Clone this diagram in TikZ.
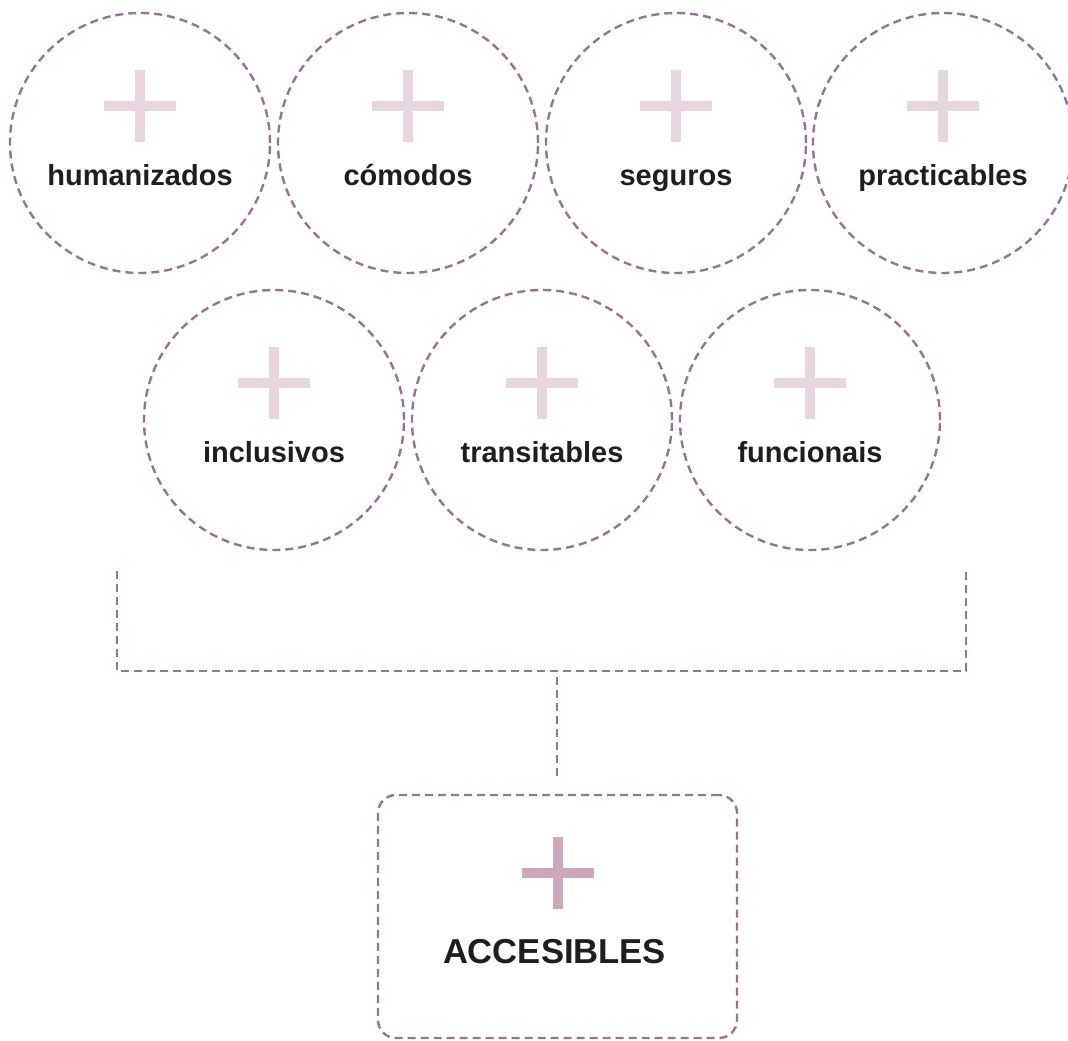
\documentclass[tikz,border=0pt]{standalone}
\usepackage{fontspec}
\setmainfont{Liberation Sans}
\definecolor{dashc}{HTML}{957493}
\definecolor{pluslight}{HTML}{E7D5E0}
\definecolor{plusdark}{HTML}{CDA8BC}
\definecolor{txt}{HTML}{1E1E1E}
\begin{document}
\begin{tikzpicture}[x=1pt,y=-1pt,
  dline/.style={draw=dashc, line width=2.4pt, dash pattern=on 8pt off 5pt},
  ring/.style={dline, circle, minimum size=260pt, inner sep=0pt},
  lbl/.style={font=\bfseries\fontsize{29}{29}\selectfont, text=txt, anchor=base, inner sep=0pt},
  biglbl/.style={font=\bfseries\fontsize{34.6}{34.6}\selectfont, text=txt, anchor=base, inner sep=0pt},
  accbox/.style={dline, rectangle, rounded corners=18pt, minimum width=359pt, minimum height=243pt, inner sep=0pt},
  plussign/.pic={\fill[#1] (-5,-36) rectangle (5,36); \fill[#1] (-36,-5) rectangle (36,5);}
]
\useasboundingbox (0,0) rectangle (1068,1041);
% top row
\node[ring] (c1) at (140,143) {};
\node[ring] (c2) at (408,143) {};
\node[ring] (c3) at (676,143) {};
\node[ring] (c4) at (943,143) {};
% second row
\node[ring] (c5) at (274,420) {};
\node[ring] (c6) at (542,420) {};
\node[ring] (c7) at (810,420) {};
% plus signs and labels
\foreach \c/\t in {c1/humanizados,c2/cómodos,c3/seguros,c4/practicables,c5/inclusivos,c6/transitables,c7/funcionais}{
  \path (\c.center) ++(0,-37) pic{plussign=pluslight};
  \path (\c.center) ++(0,42) node[lbl] (\c-t) {\t};
}
% result box
\node[accbox] (acc) at (557.5,916.5) {};
\path (acc.center) ++(0,-43.5) pic{plussign=plusdark};
\path (acc.center) ++(-3,46.5) node[biglbl] (acc-t) {ACCESIBLES};
% bracket connector
\coordinate (bl) at (117,571);
\coordinate (jl) at (117,671);
\coordinate (jr) at (966,671);
\coordinate (br) at (966,571);
\coordinate (jm) at (557,677);
\draw[dline] (bl) -- (jl) -- (jr) -- (br);
\draw[dline, shorten >=17pt] (jm) -- (jm |- acc.north);
\end{tikzpicture}
\end{document}
